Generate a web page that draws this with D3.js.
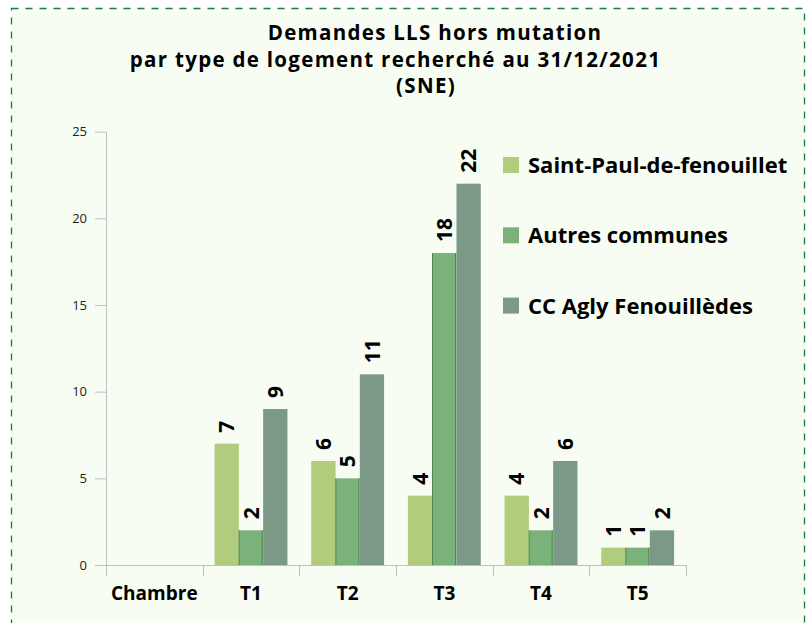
<!DOCTYPE html>
<html>
<head>
<meta charset="utf-8">
<script src="https://cdn.jsdelivr.net/npm/d3@7"></script>
<style>
  body { margin: 0; background: #fff; }
  text { font-family: "Open Sans", Lato, sans-serif; }
</style>
</head>
<body>
<div id="chart"></div>
<script>
// demandes LLS par type de logement (SNE, 31/12/2021)
var categories = ["Chambre", "T1", "T2", "T3", "T4", "T5"],
    seriesNames = ["Saint-Paul-de-fenouillet", "Autres communes", "CC Agly Fenouillèdes"],
    stPaul  = [0, 7, 6, 4, 4, 1],
    autres  = [0, 2, 5, 18, 2, 1],
    ccAgly  = [0, 9, 11, 22, 6, 2],
    yTicks  = [0, 5, 10, 15, 20, 25],
    titleLines = ["Demandes LLS hors mutation",
                  "par type de logement recherché au 31/12/2021",
                  "(SNE)"];

var colors = ["#b0cc7c", "#7bb27a", "#7c9987"];
var values = [stPaul, autres, ccAgly];
// the title lines are not all centred on the same x in the original
var titleCenters = [435, 395.5, 426];

var width = 811, height = 623,
    plot = {left: 106, right: 686, top: 131.7, bottom: 565};

var svg = d3.select("#chart").append("svg")
    .attr("width", width)
    .attr("height", height);

// chart area with dashed border
svg.append("rect")
    .attr("x", 11.5).attr("y", 8.5)
    .attr("width", 793).attr("height", 650)
    .attr("fill", "#f7fdf2")
    .attr("stroke", "#1b7a4b")
    .attr("stroke-width", 1.3)
    .attr("stroke-dasharray", "7,7");

// title
svg.selectAll("text.title")
  .data(titleLines)
  .enter().append("text")
    .attr("class", "title")
    .attr("x", (d, i) => titleCenters[i])
    .attr("y", (d, i) => 40 + i * 26.7)
    .attr("text-anchor", "middle")
    .attr("font-family", "'DejaVu Sans', sans-serif")
    .attr("font-weight", "bold")
    .attr("font-size", 20.5)
    .attr("letter-spacing", 1.3)
    .attr("fill", "#000")
    .text(d => d);

var x = d3.scaleBand().domain(categories).range([plot.left, plot.right]).padding(0);
var xs = d3.scaleBand().domain(d3.range(3)).range([0, x.bandwidth()])
    .paddingInner(0).paddingOuter(0.49);
var y = d3.scaleLinear().domain([0, 25]).range([plot.bottom, plot.top]);

// y axis
var yAxis = svg.append("g")
    .attr("transform", "translate(" + plot.left + ",0)")
    .call(d3.axisLeft(y).tickValues(yTicks).tickSize(11).tickPadding(8).tickSizeOuter(0));
yAxis.select(".domain").attr("stroke", "#bfbfbf");
yAxis.selectAll(".tick line").attr("stroke", "#bfbfbf");
yAxis.selectAll(".tick text")
    .attr("font-family", "'Open Sans', sans-serif")
    .attr("font-size", 13)
    .attr("fill", "#222");

// bars
var groups = svg.selectAll("g.cat")
  .data(categories)
  .enter().append("g")
    .attr("class", "cat")
    .attr("transform", d => "translate(" + x(d) + ",0)");

function catValues(d, i) {
  return values.map((s, k) => ({k: k, v: s[i]})).filter(e => e.v > 0);
}

groups.selectAll("rect")
  .data(catValues)
  .enter().append("rect")
    .attr("x", d => xs(d.k))
    .attr("y", d => y(d.v))
    .attr("width", xs.bandwidth())
    .attr("height", d => y(0) - y(d.v))
    .attr("fill", d => colors[d.k]);

// thin dark edges on the middle series
groups.selectAll("path.edge")
  .data((d, i) => catValues(d, i).filter(e => e.k === 1))
  .enter().append("path")
    .attr("class", "edge")
    .attr("d", d => {
      var x0 = Math.round(xs(d.k)) + 0.5, x1 = Math.round(xs(d.k) + xs.bandwidth()) - 0.5;
      return "M" + x0 + "," + y(d.v) + "V" + y(0) + "M" + x1 + "," + y(d.v) + "V" + y(0);
    })
    .attr("stroke", "#4f8a50").attr("stroke-width", 1).attr("fill", "none");

// data labels, rotated
groups.selectAll("text.lbl")
  .data(catValues)
  .enter().append("text")
    .attr("class", "lbl")
    .attr("transform", d => "translate(" + (xs(d.k) + xs.bandwidth() / 2) + "," + (y(d.v) - 11) + ") rotate(-90)")
    .attr("text-anchor", "start")
    .attr("dy", "0.36em")
    .attr("font-weight", "bold")
    .attr("font-size", 21)
    .attr("fill", "#000")
    .text(d => d.v);

// x axis
svg.append("line")
    .attr("x1", plot.left).attr("x2", plot.right)
    .attr("y1", plot.bottom + 0.5).attr("y2", plot.bottom + 0.5)
    .attr("stroke", "#bfbfbf");
svg.selectAll("line.xtick")
  .data(categories.map(c => x(c)).concat([plot.right]))
  .enter().append("line")
    .attr("class", "xtick")
    .attr("x1", d => Math.round(d) + 0.5).attr("x2", d => Math.round(d) + 0.5)
    .attr("y1", plot.bottom).attr("y2", plot.bottom + 11)
    .attr("stroke", "#bfbfbf");
svg.selectAll("text.xlab")
  .data(categories)
  .enter().append("text")
    .attr("class", "xlab")
    .attr("x", d => x(d) + x.bandwidth() / 2)
    .attr("y", 600)
    .attr("text-anchor", "middle")
    .attr("font-weight", "bold")
    .attr("font-size", 19)
    .text(d => d);

// legend
var legend = svg.selectAll("g.leg")
  .data(seriesNames)
  .enter().append("g")
    .attr("class", "leg")
    .attr("transform", (d, i) => "translate(503," + (165 + i * 70.3) + ")");
legend.append("rect")
    .attr("x", 0).attr("y", -8)
    .attr("width", 16).attr("height", 16)
    .attr("fill", (d, i) => colors[i]);
legend.append("text")
    .attr("x", 25)
    .attr("dy", "0.36em")
    .attr("font-weight", "bold")
    .attr("font-size", 22)
    .text(d => d);
</script>
</body>
</html>
